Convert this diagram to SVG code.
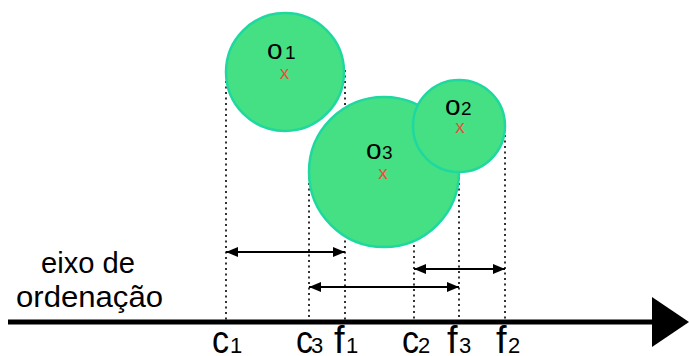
<svg xmlns="http://www.w3.org/2000/svg" width="689" height="356" viewBox="0 0 689 356">
<style>
.circ{fill:#45E083;stroke:#1ED8A0;stroke-width:2.5}
.dot{stroke:#000;stroke-width:1.6;stroke-dasharray:2,3.5;fill:none}
.arr{stroke:#000;stroke-width:2;fill:none;marker-start:url(#ah);marker-end:url(#ah)}
.t{font-family:"Liberation Sans",Arial,sans-serif;fill:#000}
.big{font-size:38px}
.sub{font-size:22px}
.ol{font-size:28px}
.os{font-size:19px}
.cx{font-family:"Liberation Sans",Arial,sans-serif;font-size:19px;fill:#E8503A}
.ax{font-family:"Liberation Sans",Arial,sans-serif;font-size:29px;fill:#000}
</style>
<defs>
<marker id="ah" viewBox="0 0 12 10" refX="12" refY="5" markerWidth="12" markerHeight="10" markerUnits="userSpaceOnUse" orient="auto-start-reverse">
<path d="M0,0 L12,5 L0,10 Z" fill="#000"/>
</marker>
</defs>
<g id="connectors">
<line class="dot" x1="226" y1="70" x2="226" y2="320"/>
<line class="dot" x1="345" y1="70" x2="345" y2="320"/>
<line class="dot" x1="309" y1="172" x2="309" y2="320"/>
<line class="dot" x1="459" y1="172" x2="459" y2="320"/>
<line class="dot" x1="414" y1="124" x2="414" y2="320"/>
<line class="dot" x1="505" y1="124" x2="505" y2="320"/>
<line class="arr" x1="226" y1="252" x2="345" y2="252"/>
<line class="arr" x1="414" y1="269" x2="505" y2="269"/>
<line class="arr" x1="309" y1="287" x2="459" y2="287"/>
</g>
<g id="axis">
<line x1="8" y1="322" x2="654" y2="322" stroke="#000" stroke-width="5"/>
<path d="M652,297 L689,322 L652,347 Z" fill="#000"/>
<text class="ax" x="88" y="273" text-anchor="middle" textLength="94" lengthAdjust="spacingAndGlyphs">eixo de</text>
<text class="ax" x="16" y="307" textLength="147" lengthAdjust="spacingAndGlyphs">ordenação</text>
</g>
<g id="o1">
<circle class="circ" cx="285" cy="72" r="59"/>
<text class="t ol" x="267" y="59">o</text><text class="t os" x="285" y="59">1</text>
<text class="cx" x="284.5" y="79" text-anchor="middle">x</text>
</g>
<g id="o3">
<circle class="circ" cx="384" cy="172" r="75"/>
<text class="t ol" x="366" y="159">o</text><text class="t os" x="382" y="159">3</text>
<text class="cx" x="383" y="179" text-anchor="middle">x</text>
</g>
<g id="o2">
<circle class="circ" cx="459" cy="126" r="46"/>
<text class="t ol" x="445" y="115">o</text><text class="t os" x="461" y="115">2</text>
<text class="cx" x="460" y="133" text-anchor="middle">x</text>
</g>
<g id="labels">
<text class="t big" x="212" y="353" textLength="17" lengthAdjust="spacingAndGlyphs">c</text><text class="t sub" x="230" y="353">1</text>
<text class="t big" x="296" y="353" textLength="17" lengthAdjust="spacingAndGlyphs">c</text><text class="t sub" x="311" y="353">3</text>
<text class="t big" x="334" y="353">f</text><text class="t sub" x="346" y="353">1</text>
<text class="t big" x="402" y="353" textLength="17" lengthAdjust="spacingAndGlyphs">c</text><text class="t sub" x="418" y="353">2</text>
<text class="t big" x="447" y="353">f</text><text class="t sub" x="459" y="353">3</text>
<text class="t big" x="496" y="353">f</text><text class="t sub" x="508" y="353">2</text>
</g>
</svg>
